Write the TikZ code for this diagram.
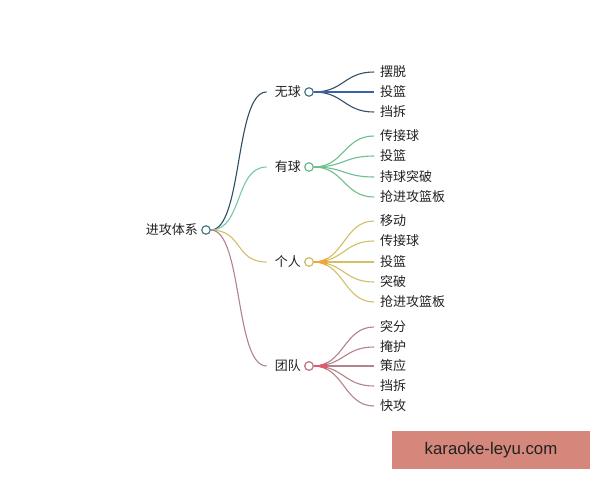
\documentclass[tikz,border=0pt]{standalone}
\usepackage{fontspec}
\setmainfont{Noto Sans CJK SC}
\newfontfamily\wmfont{Liberation Sans}
\definecolor{rootc}{HTML}{3D6D82}
\definecolor{ca}{HTML}{2C4F63}
\definecolor{cal}{HTML}{34506B}
\definecolor{cam}{HTML}{3A62A8}
\definecolor{cb}{HTML}{72CBA6}
\definecolor{cbl}{HTML}{6DBF8E}
\definecolor{cbd}{HTML}{5CB880}
\definecolor{cc}{HTML}{D3C064}
\definecolor{ccb}{HTML}{F2A33A}
\definecolor{ccd}{HTML}{C8BF6A}
\definecolor{cd}{HTML}{B3838B}
\definecolor{cdb}{HTML}{E05A6A}
\definecolor{cdd}{HTML}{C07880}
\definecolor{wm}{HTML}{D4877A}
\definecolor{txt}{HTML}{222222}
\begin{document}
\begin{tikzpicture}[x=1pt,y=-1pt,
  lbl/.style={inner sep=0pt, text=txt, font=\fontsize{13}{15}\selectfont},
  dot/.style={circle, draw, fill=white, minimum size=8.5pt, inner sep=0pt, line width=1.1pt},
  conn/.style={line width=1.1pt}]
\fill[white] (0,0) rectangle (600,480);
\useasboundingbox (0,0) rectangle (600,480);
% root
\node[lbl, anchor=east] (root) at (198,230) {进攻体系};
\node[dot, draw=rootc] (r) at (206,230) {};
% level 1
\node[lbl, anchor=east] (t1) at (301,92) {无球};
\node[dot, draw=rootc] (d1) at (309,92) {};
\node[lbl, anchor=east] (t2) at (301,167) {有球};
\node[dot, draw=cbd] (d2) at (309,167) {};
\node[lbl, anchor=east] (t3) at (301,262) {个人};
\node[dot, draw=ccd] (d3) at (309,262) {};
\node[lbl, anchor=east] (t4) at (301,366) {团队};
\node[dot, draw=cdd] (d4) at (309,366) {};
% leaves
\foreach \t/\y [count=\i] in {摆脱/72,投篮/92,挡拆/112}
  \node[lbl, anchor=west] (a\i) at (380,\y) {\t};
\foreach \t/\y [count=\i] in {传接球/136,投篮/156,持球突破/177,抢进攻篮板/197}
  \node[lbl, anchor=west] (b\i) at (380,\y) {\t};
\foreach \t/\y [count=\i] in {移动/221,传接球/241,投篮/262,突破/282,抢进攻篮板/302}
  \node[lbl, anchor=west] (c\i) at (380,\y) {\t};
\foreach \t/\y [count=\i] in {突分/327,掩护/347,策应/366,挡拆/386,快攻/406}
  \node[lbl, anchor=west] (e\i) at (380,\y) {\t};
% root branches
\draw[conn, ca] (r.east) .. controls +(32,0) and +(-32,0) .. ([xshift=-8pt]t1.west);
\draw[conn, cb] (r.east) .. controls +(32,0) and +(-32,0) .. ([xshift=-8pt]t2.west);
\draw[conn, cc] (r.east) .. controls +(32,0) and +(-32,0) .. ([xshift=-8pt]t3.west);
\draw[conn, cd] (r.east) .. controls +(32,0) and +(-32,0) .. ([xshift=-8pt]t4.west);
% leaf branches
\foreach \i in {1,3}
  \draw[conn, cal] (d1.east) .. controls +(30,0) and +(-30,0) .. ([xshift=-6pt]a\i.west);
\draw[conn, cam] (d1.east) -- ([xshift=-6pt]a2.west);
\foreach \i in {1,...,4}
  \draw[conn, cbl] (d2.east) .. controls +(30,0) and +(-30,0) .. ([xshift=-6pt]b\i.west);
\foreach \i in {1,...,5}
  \draw[conn, cc] (d3.east) .. controls +(30,0) and +(-30,0) .. ([xshift=-6pt]c\i.west);
\foreach \i in {1,...,5}
  \draw[conn, cd] (d4.east) .. controls +(30,0) and +(-30,0) .. ([xshift=-6pt]e\i.west);
% bright tint near the circles
\begin{scope}
  \clip (313,215) rectangle (327,415);
  \foreach \i in {1,...,5}
    \draw[conn, ccb] (d3.east) .. controls +(30,0) and +(-30,0) .. ([xshift=-6pt]c\i.west);
  \foreach \i in {1,...,5}
    \draw[conn, cdb] (d4.east) .. controls +(30,0) and +(-30,0) .. ([xshift=-6pt]e\i.west);
\end{scope}
\node[dot, draw=ccd] at (d3) {};
\node[dot, draw=cdd] at (d4) {};
% watermark
\node[fill=wm, minimum width=198pt, minimum height=38pt, inner sep=0pt,
      text=txt, font=\wmfont\fontsize{16.8}{19}\selectfont] (wmk) at (491,450) {karaoke-leyu.com};
\end{tikzpicture}
\end{document}
